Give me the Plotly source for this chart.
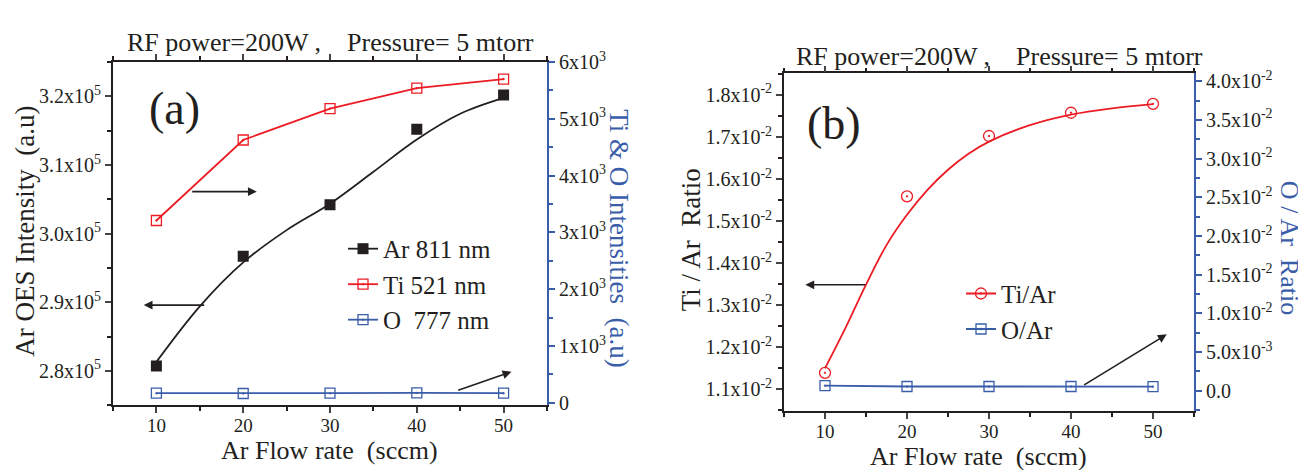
import plotly.graph_objects as go

# ---------------- data ----------------
flow = [10, 20, 30, 40, 50]
ar_811 = [2.807e5, 2.967e5, 3.042e5, 3.152e5, 3.202e5]
ti_521 = [3210, 4627, 5180, 5540, 5700]
o_777 = [170, 165, 170, 175, 170]
ar_fit_x = [10, 15, 20, 25, 30, 35, 40, 45, 50]
ar_fit = [2.813e5, 2.894e5, 2.958e5, 3.005e5, 3.0435e5, 3.090e5, 3.137e5, 3.1745e5, 3.1976e5]

ti_ar = [1.1394e-2, 1.5589e-2, 1.7023e-2, 1.7575e-2, 1.7786e-2]
o_ar = [6.5e-4, 5.5e-4, 5.5e-4, 5.5e-4, 5.3e-4]
ti_ar_fit_x = [10, 12.5, 15, 17.5, 20, 22.5, 25, 27.5, 30, 35, 40, 45, 50]
ti_ar_fit = [1.150e-2, 1.246e-2, 1.349e-2, 1.443e-2, 1.515e-2, 1.574e-2, 1.622e-2,
             1.660e-2, 1.689e-2, 1.728e-2, 1.753e-2, 1.768e-2, 1.778e-2]

x_ticks = [10, 20, 30, 40, 50]
ya_ticks = [2.8e5, 2.9e5, 3.0e5, 3.1e5, 3.2e5]
ya_text = ["2.8x10<sup>5</sup>", "2.9x10<sup>5</sup>", "3.0x10<sup>5</sup>", "3.1x10<sup>5</sup>", "3.2x10<sup>5</sup>"]
ya2_ticks = [0, 1000, 2000, 3000, 4000, 5000, 6000]
ya2_text = ["0", "1x10<sup>3</sup>", "2x10<sup>3</sup>", "3x10<sup>3</sup>", "4x10<sup>3</sup>", "5x10<sup>3</sup>", "6x10<sup>3</sup>"]
yb_ticks = [0.011, 0.012, 0.013, 0.014, 0.015, 0.016, 0.017, 0.018]
yb_text = ["1.%dx10<sup>-2</sup>" % i for i in range(1, 9)]
yb2_ticks = [0, 0.005, 0.01, 0.015, 0.02, 0.025, 0.03, 0.035, 0.04]
yb2_text = ["0.0", "5.0x10<sup>-3</sup>", "1.0x10<sup>-2</sup>", "1.5x10<sup>-2</sup>", "2.0x10<sup>-2</sup>",
            "2.5x10<sup>-2</sup>", "3.0x10<sup>-2</sup>", "3.5x10<sup>-2</sup>", "4.0x10<sup>-2</sup>"]

BLACK = "#231f20"
RED = "#ed1c24"
BLUE = "#3a5daa"
FONT = "Liberation Serif"

fig = go.Figure()

# ---- panel (a) ----
fig.add_trace(go.Scatter(x=ar_fit_x, y=ar_fit, mode="lines", line=dict(color=BLACK, width=1.8, shape="spline"),
                         xaxis="x", yaxis="y", showlegend=False))
fig.add_trace(go.Scatter(x=flow, y=ar_811, mode="markers", marker=dict(symbol="square", size=11, color=BLACK),
                         xaxis="x", yaxis="y", showlegend=False))
fig.add_trace(go.Scatter(x=[None], y=[None], mode="lines+markers", name="Ar 811 nm",
                         line=dict(color=BLACK, width=1.8), marker=dict(symbol="square", size=11, color=BLACK),
                         xaxis="x", yaxis="y", legend="legend"))
fig.add_trace(go.Scatter(x=flow, y=ti_521, mode="lines+markers", name="Ti 521 nm",
                         line=dict(color=RED, width=1.8),
                         marker=dict(symbol="square-open-dot", size=10, color=RED, line=dict(width=1.3)),
                         xaxis="x", yaxis="y2", legend="legend"))
fig.add_trace(go.Scatter(x=flow, y=o_777, mode="lines+markers", name="O  777 nm",
                         line=dict(color=BLUE, width=1.8),
                         marker=dict(symbol="square-open-dot", size=10, color=BLUE, line=dict(width=1.3)),
                         xaxis="x", yaxis="y2", legend="legend"))

# ---- panel (b) ----
fig.add_trace(go.Scatter(x=ti_ar_fit_x, y=ti_ar_fit, mode="lines", line=dict(color=RED, width=1.8, shape="spline"),
                         xaxis="x2", yaxis="y3", showlegend=False))
fig.add_trace(go.Scatter(x=flow, y=ti_ar, mode="markers",
                         marker=dict(symbol="circle-open-dot", size=11, color=RED, line=dict(width=1.3)),
                         xaxis="x2", yaxis="y3", showlegend=False))
fig.add_trace(go.Scatter(x=[None], y=[None], mode="lines+markers", name="Ti/Ar",
                         line=dict(color=RED, width=1.8),
                         marker=dict(symbol="circle-open-dot", size=11, color=RED, line=dict(width=1.3)),
                         xaxis="x2", yaxis="y3", legend="legend2"))
fig.add_trace(go.Scatter(x=flow, y=o_ar, mode="lines+markers", name="O/Ar",
                         line=dict(color=BLUE, width=1.8),
                         marker=dict(symbol="square-open-dot", size=10, color=BLUE, line=dict(width=1.3)),
                         xaxis="x2", yaxis="y4", legend="legend2"))

W, H = 1306, 470
def px(v): return v / W
def py(v): return 1 - v / H

xtickfont = dict(family=FONT, size=19, color=BLACK)
ytickfont = dict(family=FONT, size=20, color=BLACK)
common_x = dict(range=[5, 55], tickvals=x_ticks, ticks="outside", ticklen=6, tickwidth=1.5,
                showline=True, linecolor=BLACK, linewidth=1.8, mirror="ticks", showgrid=False,
                zeroline=False, tickfont=xtickfont, ticklabelstandoff=-4,
                minor=dict(dtick=5, tick0=5, ticks="outside", ticklen=4, tickwidth=1.5, tickcolor=BLACK, showgrid=False))

fig.update_layout(
    width=W, height=H, margin=dict(l=0, r=0, t=0, b=0),
    paper_bgcolor="white", plot_bgcolor="white",
    font=dict(family=FONT, color=BLACK),
    xaxis=dict(domain=[px(105), px(539)], anchor="y", **common_x),
    yaxis=dict(domain=[1 - 403 / H, 1 - 43 / H], anchor="x", range=[2.75e5, 3.25e5],
               tickvals=ya_ticks, ticktext=ya_text, ticks="outside", ticklen=6, tickwidth=1.5,
               showline=True, linecolor=BLACK, linewidth=1.8, showgrid=False, zeroline=False, tickfont=ytickfont,
               minor=dict(dtick=5000, tick0=2.75e5, ticks="outside", ticklen=4, tickwidth=1.5, tickcolor=BLACK, showgrid=False)),
    yaxis2=dict(overlaying="y", side="right", anchor="x", range=[-40, 6000],
                tickvals=ya2_ticks, ticktext=ya2_text, ticks="outside", ticklen=6, tickwidth=1.5, tickcolor=BLUE,
                showline=True, linecolor=BLUE, linewidth=1.8, showgrid=False, zeroline=False, tickfont=ytickfont,
                minor=dict(dtick=500, tick0=0, ticks="outside", ticklen=4, tickwidth=1.5, tickcolor=BLUE, showgrid=False)),
    xaxis2=dict(domain=[px(776), px(1186)], anchor="y3", **common_x),
    yaxis3=dict(domain=[1 - 409 / H, 1 - 55 / H], anchor="x2", range=[0.01049, 0.01851],
                tickvals=yb_ticks, ticktext=yb_text, ticks="outside", ticklen=6, tickwidth=1.5,
                showline=True, linecolor=BLACK, linewidth=1.8, showgrid=False, zeroline=False, tickfont=ytickfont,
                minor=dict(dtick=0.0005, tick0=0.0105, ticks="outside", ticklen=4, tickwidth=1.5, tickcolor=BLACK, showgrid=False)),
    yaxis4=dict(overlaying="y3", side="right", anchor="x2", range=[-0.0026, 0.041],
                tickvals=yb2_ticks, ticktext=yb2_text, ticks="outside", ticklen=6, tickwidth=1.5, tickcolor=BLUE,
                showline=True, linecolor=BLUE, linewidth=1.8, showgrid=False, zeroline=False, tickfont=ytickfont,
                minor=dict(dtick=0.0025, tick0=0, ticks="outside", ticklen=4, tickwidth=1.5, tickcolor=BLUE, showgrid=False)),
    legend=dict(x=px(335), y=py(215), xanchor="left", yanchor="top", bgcolor="rgba(0,0,0,0)",
                font=dict(family=FONT, size=25, color=BLACK), tracegroupgap=0),
    legend2=dict(x=px(953), y=py(262), xanchor="left", yanchor="top", bgcolor="rgba(0,0,0,0)",
                 font=dict(family=FONT, size=25, color=BLACK), tracegroupgap=0),
)

ann = []
def txt(x, y, s, size, color=BLACK, angle=0):
    ann.append(dict(x=px(x), y=py(y), xref="paper", yref="paper", text=s, showarrow=False,
                    font=dict(family=FONT, size=size, color=color), textangle=angle,
                    xanchor="center", yanchor="middle"))

txt(322, 23, "RF power=200W ,&nbsp;&nbsp;&nbsp;&nbsp;Pressure= 5 mtorr", 26)
txt(991, 37, "RF power=200W ,&nbsp;&nbsp;&nbsp;&nbsp;Pressure= 5 mtorr", 26)
txt(166, 92, "(a)", 46)
txt(826, 108, "(b)", 46)
txt(17, 221, "Ar OES Intensity&nbsp;&nbsp;(a.u)", 27, angle=-90)
txt(611, 228, "Ti &amp; O Intensities&nbsp;&nbsp;(a.u)", 27, color=BLUE, angle=90)
txt(321, 451, "Ar Flow rate&nbsp;&nbsp;(sccm)", 26)
txt(970, 457, "Ar Flow rate&nbsp;&nbsp;(sccm)", 26)
txt(683, 230, "Ti / Ar&nbsp;&nbsp;Ratio", 27, angle=-90)
txt(1281, 238, "O / Ar&nbsp;&nbsp;Ratio", 26, color=BLUE, angle=90)

def arrow(xh, yh, xt, yt, xr, yr):
    ann.append(dict(x=xh, y=yh, ax=xt, ay=yt, xref=xr, yref=yr, axref=xr, ayref=yr, text="",
                    showarrow=True, arrowhead=2, arrowsize=1.1, arrowwidth=1.6, arrowcolor=BLACK))

arrow(21.56, 3.0611e5, 13.95, 3.0611e5, "x", "y")
arrow(8.54, 2.8958e5, 15.68, 2.8958e5, "x", "y")
arrow(50.9, 2.7986e5, 44.6, 2.7708e5, "x", "y")
arrow(7.61, 0.013486, 15.09, 0.013486, "x2", "y3")
arrow(51.67, 0.012308, 41.43, 0.011085, "x2", "y3")

fig.update_layout(annotations=ann)
fig.write_html("out.html")
